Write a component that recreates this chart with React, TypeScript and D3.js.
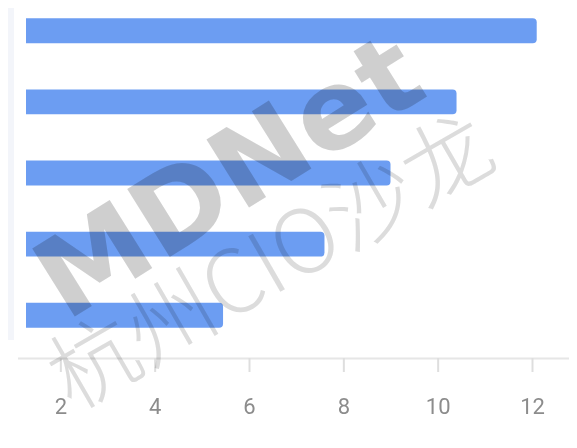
import { useEffect, useRef } from 'react';
import * as d3 from 'd3';

// ─── Data ───────────────────────────────────────────────────

// category labels are cut off at the left edge of the picture
const categories = ['类目1', '类目2', '类目3', '类目4', '类目5'];
const values = [12.1, 10.4, 9.0, 7.6, 5.45];
const xTicks = [2, 4, 6, 8, 10, 12];

// ─── Constants ──────────────────────────────────────────────

const W = 577;
const H = 448;
const BAR_COLOR = '#6c9df2';

export default function App() {
  const svgRef = useRef<SVGSVGElement>(null);

  useEffect(() => {
    if (!svgRef.current) return;
    const svg = d3.select(svgRef.current);
    svg.selectAll('*').remove();

    // plot is cropped: value 0 sits left of the frame
    const x = d3.scaleLinear().domain([0, 12]).range([-34, 532]);
    const y = d3.scaleBand<string>()
      .domain(categories)
      .range([4, 342])
      .paddingInner(0.65)
      .paddingOuter(0.2);

    svg.append('rect').attr('width', W).attr('height', H).attr('fill', '#ffffff');

    svg.append('defs').append('clipPath').attr('id', 'plot-clip')
      .append('rect').attr('x', 26).attr('y', 0).attr('width', W - 26).attr('height', H);

    const g = svg.append('g');

    // Bars
    g.append('g').attr('clip-path', 'url(#plot-clip)')
      .selectAll('rect')
      .data(values)
      .join('rect')
      .attr('x', x(0) - 10)
      .attr('y', (_, i) => y(categories[i])!)
      .attr('width', (d) => x(d) - x(0) + 10)
      .attr('height', y.bandwidth())
      .attr('rx', 4)
      .attr('fill', BAR_COLOR);

    // faint fuzzy edge at the left where labels were cut off
    g.append('rect')
      .attr('x', 0).attr('y', 0).attr('width', 14).attr('height', 340)
      .attr('fill', '#eef1f8').attr('opacity', 0.7);

    // X axis
    const axis = g.append('g').attr('transform', 'translate(0,358)')
      .call(d3.axisBottom(x).tickValues(xTicks).tickSize(14).tickPadding(26).tickSizeOuter(0));
    axis.select('.domain').attr('stroke', '#e6e6e6').attr('stroke-width', 2)
      .attr('d', `M${x(0) + 52},0.5H${W}`);
    axis.selectAll('.tick line').attr('stroke', '#dedede').attr('stroke-width', 2);
    axis.selectAll('.tick text')
      .attr('fill', '#8c8c8c')
      .attr('font-size', '22px')
      .attr('font-family', 'Roboto, "Noto Sans", sans-serif');

    // Watermarks (photo overlay)
    const wm = svg.append('g').style('mix-blend-mode', 'multiply');
    wm.append('text')
      .attr('transform', 'translate(66,322) rotate(-32)')
      .attr('font-family', '"DejaVu Sans", sans-serif')
      .attr('font-weight', 'bold')
      .attr('font-size', '110px')
      .attr('textLength', 430)
      .attr('lengthAdjust', 'spacingAndGlyphs')
      .attr('fill', '#c4c4c4')
      .attr('opacity', 0.8)
      .text('MDNet');
    wm.append('text')
      .attr('transform', 'translate(72,412) rotate(-30)')
      .attr('font-family', '"Noto Sans CJK SC", sans-serif')
      .attr('font-weight', 300)
      .attr('font-size', '88px')
      .attr('fill', '#d4d4d4')
      .attr('opacity', 0.8)
      .text('杭州CIO沙龙');
  }, []);

  return (
    <svg ref={svgRef} width={W} height={H} style={{ display: 'block', margin: -8 }} />
  );
}
